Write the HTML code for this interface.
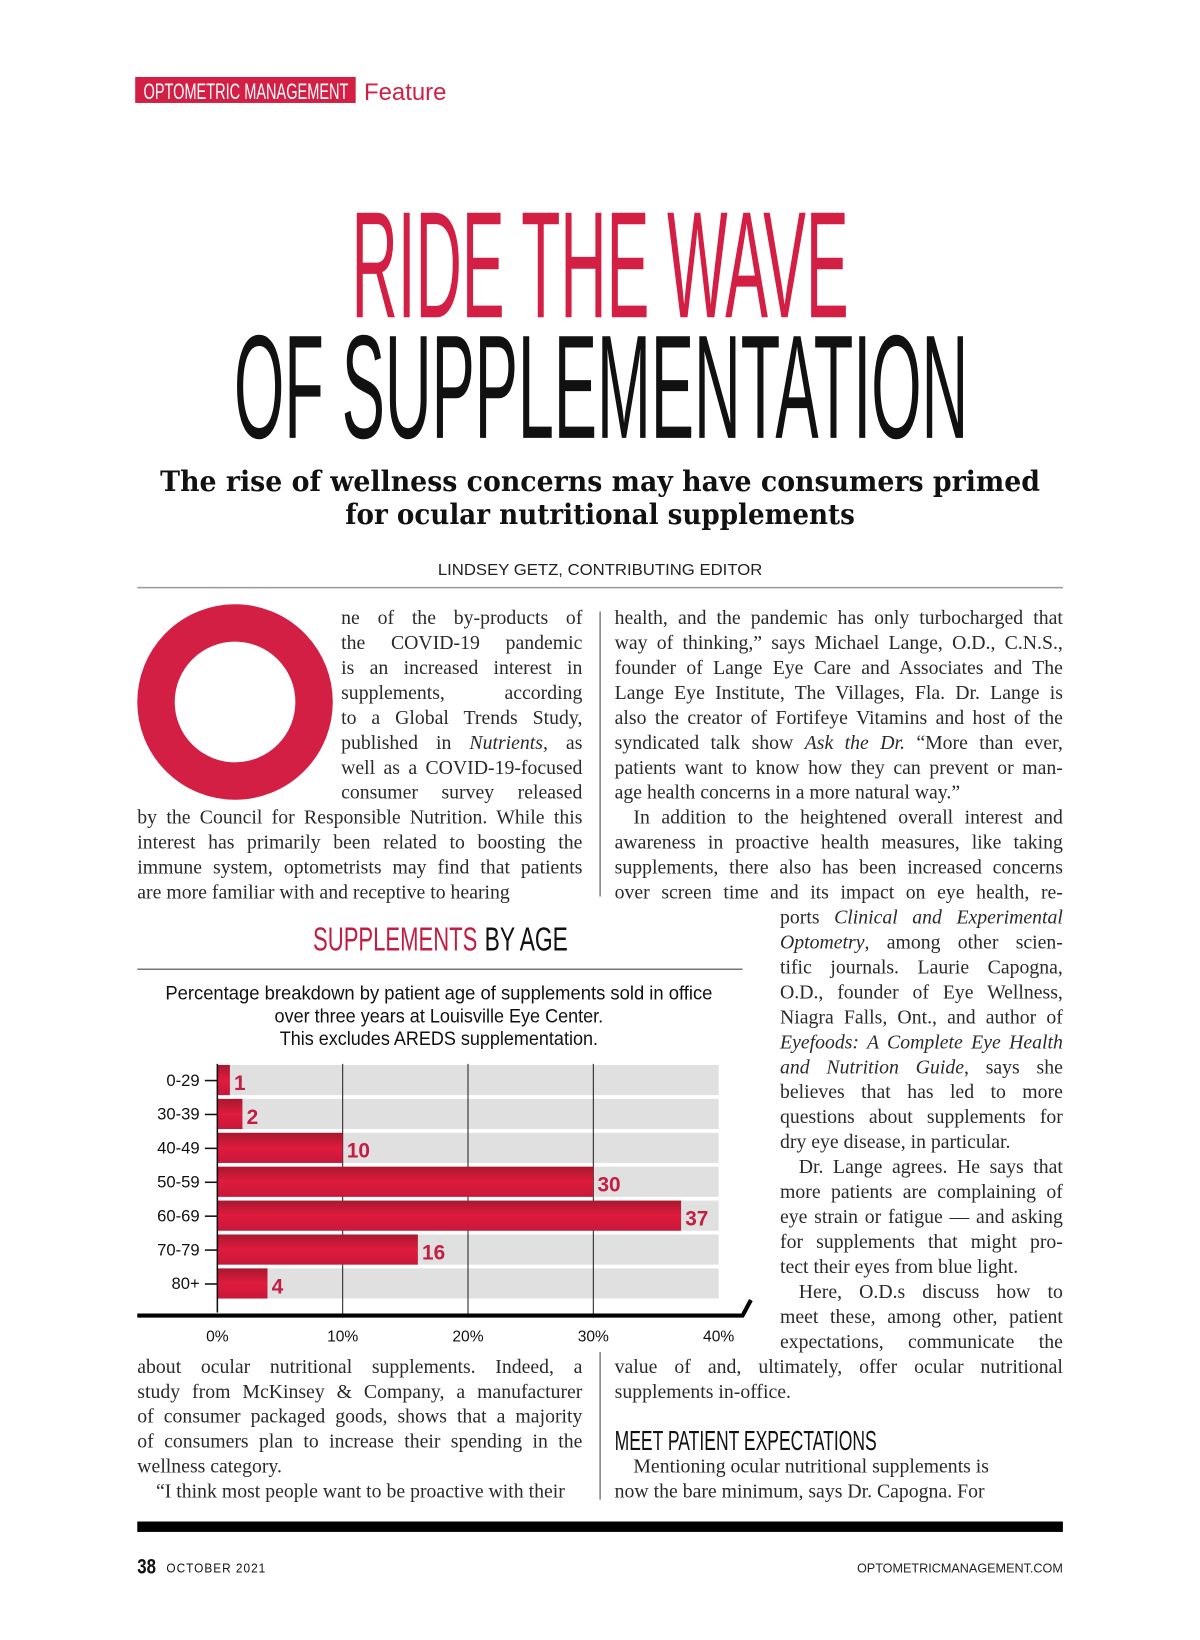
<!DOCTYPE html>
<html><head><meta charset="utf-8">
<style>
html,body{margin:0;padding:0;background:#fff;width:1200px;height:1631px;overflow:hidden}
#page{position:absolute;left:0;top:0;width:1160px;height:1577px;transform:scale(1.04);transform-origin:0 0;font-family:"Liberation Serif",serif;color:#222}
.abs{position:absolute}
.ln{position:absolute;height:24px;line-height:24px;font-size:19px;white-space:nowrap;text-align:justify;text-align-last:justify;color:#2a2a2a}
.ln.last{text-align-last:left}
svg text{font-family:"Liberation Sans",sans-serif}
</style></head>
<body>
<div id="page">
  <div class="abs" style="left:130px;top:74px;width:212px;height:25px;background:#d41f45"></div>
  <svg class="abs" style="left:0;top:0" width="1160" height="1577">
    <text x="138" y="95" font-size="21" fill="#fff" textLength="197" lengthAdjust="spacingAndGlyphs">OPTOMETRIC MANAGEMENT</text>
    <text x="350" y="96" font-size="23" fill="#d41f45">Feature</text>
    <text x="338" y="305" font-size="146" fill="#d41f45" textLength="478" lengthAdjust="spacingAndGlyphs">RIDE THE WAVE</text>
    <text x="225" y="421" font-size="142" fill="#111" textLength="706" lengthAdjust="spacingAndGlyphs">OF SUPPLEMENTATION</text>
    <text x="577" y="472" font-size="27" font-weight="bold" fill="#111" text-anchor="middle" textLength="846" lengthAdjust="spacingAndGlyphs" style="font-family:'DejaVu Serif',serif">The rise of wellness concerns may have consumers primed</text>
    <text x="577" y="504" font-size="27" font-weight="bold" fill="#111" text-anchor="middle" textLength="490" lengthAdjust="spacingAndGlyphs" style="font-family:'DejaVu Serif',serif">for ocular nutritional supplements</text>
    <text x="577" y="553" font-size="15.5" fill="#222" text-anchor="middle" textLength="312" lengthAdjust="spacingAndGlyphs">LINDSEY GETZ, CONTRIBUTING EDITOR</text>
    <line x1="132" y1="565" x2="1022" y2="565" stroke="#999" stroke-width="1.5"/>
    <line x1="577" y1="588" x2="577" y2="862" stroke="#444" stroke-width="1"/>
    <line x1="577" y1="1300" x2="577" y2="1442" stroke="#444" stroke-width="1"/>
    <circle cx="226" cy="675" r="76" fill="none" stroke="#d41f45" stroke-width="36"/>
    <text x="591" y="1394" font-size="27" fill="#111" textLength="252" lengthAdjust="spacingAndGlyphs">MEET PATIENT EXPECTATIONS</text>
    <rect x="132" y="1463" width="890" height="10" fill="#000"/>
    <text x="132" y="1513" font-size="20" font-weight="bold" fill="#111" textLength="18" lengthAdjust="spacingAndGlyphs">38</text>
    <text x="160" y="1512" font-size="12" fill="#111" textLength="96" lengthAdjust="spacingAndGlyphs" letter-spacing="1">OCTOBER 2021</text>
    <text x="1022" y="1512" font-size="12" fill="#222" text-anchor="end" textLength="198" lengthAdjust="spacingAndGlyphs">OPTOMETRICMANAGEMENT.COM</text>
  </svg>
  <svg id="chart" class="abs" style="left:0;top:0" width="1160" height="1577"></svg>
  <div id="text"></div>
</div>
<script>
const categories=["0-29","30-39","40-49","50-59","60-69","70-79","80+"];
const values=[1,2,10,30,37,16,4];
const ticks=[0,10,20,30,40];
const NS="http://www.w3.org/2000/svg";
const svg=document.getElementById('chart');
function mk(t,a,txt){const e=document.createElementNS(NS,t);for(const k in a)e.setAttribute(k,a[k]);if(txt!==undefined)e.textContent=txt;svg.appendChild(e);return e;}
const x0=209,pxPer=12.05,rowTop=1023,rowH=32.6,barH=29;
const xs=v=>x0+v*pxPer;
const yr=i=>rowTop+i*rowH;
const defs=mk('defs',{});
const g=document.createElementNS(NS,'linearGradient');g.setAttribute('id','bg');g.setAttribute('x1','0');g.setAttribute('y1','0');g.setAttribute('x2','0');g.setAttribute('y2','1');
[['0','#a8182f'],['0.5','#e01b3e'],['1','#c8173a']].forEach(s=>{const st=document.createElementNS(NS,'stop');st.setAttribute('offset',s[0]);st.setAttribute('stop-color',s[1]);g.appendChild(st);});
defs.appendChild(g);
let t=mk('text',{x:301,y:914,'font-size':32,fill:'#c41d43','text-anchor':'start',textLength:158,lengthAdjust:'spacingAndGlyphs'},'SUPPLEMENTS');

t=mk('text',{x:466,y:914,'font-size':32,fill:'#111','text-anchor':'start',textLength:80,lengthAdjust:'spacingAndGlyphs'},'BY AGE');

mk('line',{x1:132,y1:932,x2:714,y2:932,stroke:'#777','stroke-width':1.5});
["Percentage breakdown by patient age of supplements sold in office","over three years at Louisville Eye Center.","This excludes AREDS supplementation."].forEach((s,i)=>{
  const e=mk('text',{x:422,y:961+i*22,'font-size':19,fill:'#111','text-anchor':'middle',textLength:[526,316,306][i],lengthAdjust:'spacingAndGlyphs'},s);
  
});
categories.forEach((c,i)=>{
  const y=yr(i);
  const bgr=mk('rect',{x:x0,y:y+1,width:xs(40)-x0,height:barH,fill:'#e0e0e0'});
  
});
ticks.slice(1,4).forEach(v=>{
  const l=mk('line',{x1:xs(v),y1:yr(0),x2:xs(v),y2:1267,stroke:'#222','stroke-width':1});
  
});
categories.forEach((c,i)=>{
  const y=yr(i);
  const b=mk('rect',{x:x0,y:y+1,width:xs(values[i])-x0,height:barH,fill:'url(#bg)'});
  
  const v=mk('text',{x:xs(values[i])+4,y:y+25,'font-size':20,'font-weight':'bold',fill:'#c41d43'},String(values[i]));
  
  const lb=mk('text',{x:192,y:y+21,'font-size':16,fill:'#111','text-anchor':'end'},c);
  
  mk('line',{x1:197,y1:y+16,x2:x0,y2:y+16,stroke:'#111','stroke-width':1.5});
});
mk('line',{x1:x0,y1:yr(0),x2:x0,y2:1262,stroke:'#111','stroke-width':1.5});
const base=mk('path',{d:'M132 1265 L714 1265 L722 1250',fill:'none',stroke:'#000','stroke-width':4});

ticks.forEach(v=>{
  const e=mk('text',{x:xs(v),y:1290,'font-size':15,fill:'#111','text-anchor':'middle'},v+'%');
  
});

const host=document.getElementById('text');
function block(x,y,w,lines,name){
  lines.forEach((s,i)=>{
    const d=document.createElement('div');
    
    
    let txt=s,cls='ln',left=x,width=w;
    if(txt.startsWith('^')){txt=txt.slice(1);cls+=' last';}
    if(txt.startsWith('>')){txt=txt.slice(1);left=x+18;width=w-18;}
    d.className=cls;d.style.left=left+'px';d.style.top=(y+i*24)+'px';d.style.width=width+'px';
    d.innerHTML=txt;host.appendChild(d);
  });
}
block(328,583,232,["ne of the by-products of","the COVID-19 pandemic","is an increased interest in","supplements, according","to a Global Trends Study,","published in <i>Nutrients,</i> as","well as a COVID-19-focused","consumer survey released"],'intro-line');
block(132,775,428,["by the Council for Responsible Nutrition. While this","interest has primarily been related to boosting the","immune system, optometrists may find that patients","^are more familiar with and receptive to hearing"],'left-col-line');
block(132,1303,428,["about ocular nutritional supplements. Indeed, a","study from McKinsey &amp; Company, a manufacturer","of consumer packaged goods, shows that a majority","of consumers plan to increase their spending in the","^wellness category.","^>“I think most people want to be proactive with their"],'left-col-line');
block(591,583,431,["health, and the pandemic has only turbocharged that","way of thinking,” says Michael Lange, O.D., C.N.S.,","founder of Lange Eye Care and Associates and The","Lange Eye Institute, The Villages, Fla. Dr. Lange is","also the creator of Fortifeye Vitamins and host of the","syndicated talk show <i>Ask the Dr.</i> “More than ever,","patients want to know how they can prevent or man-","^age health concerns in a more natural way.”",">In addition to the heightened overall interest and","awareness in proactive health measures, like taking","supplements, there also has been increased concerns","over screen time and its impact on eye health, re-"],'right-col-line');
block(750,871,272,["ports <i>Clinical and Experimental</i>","<i>Optometry</i>, among other scien-","tific journals. Laurie Capogna,","O.D., founder of Eye Wellness,","Niagra Falls, Ont., and author of","<i>Eyefoods: A Complete Eye Health</i>","<i>and Nutrition Guide</i>, says she","believes that has led to more","questions about supplements for","^dry eye disease, in particular.",">Dr. Lange agrees. He says that","more patients are complaining of","eye strain or fatigue — and asking","for supplements that might pro-","^tect their eyes from blue light.",">Here, O.D.s discuss how to","meet these, among other, patient","expectations, communicate the"],'right-col-line');
block(591,1303,431,["value of and, ultimately, offer ocular nutritional","^supplements in-office."],'right-col-line');
block(591,1399,431,["^>Mentioning ocular nutritional supplements is","^now the bare minimum, says Dr. Capogna. For"],'right-col-line');
</script>
</body></html>
